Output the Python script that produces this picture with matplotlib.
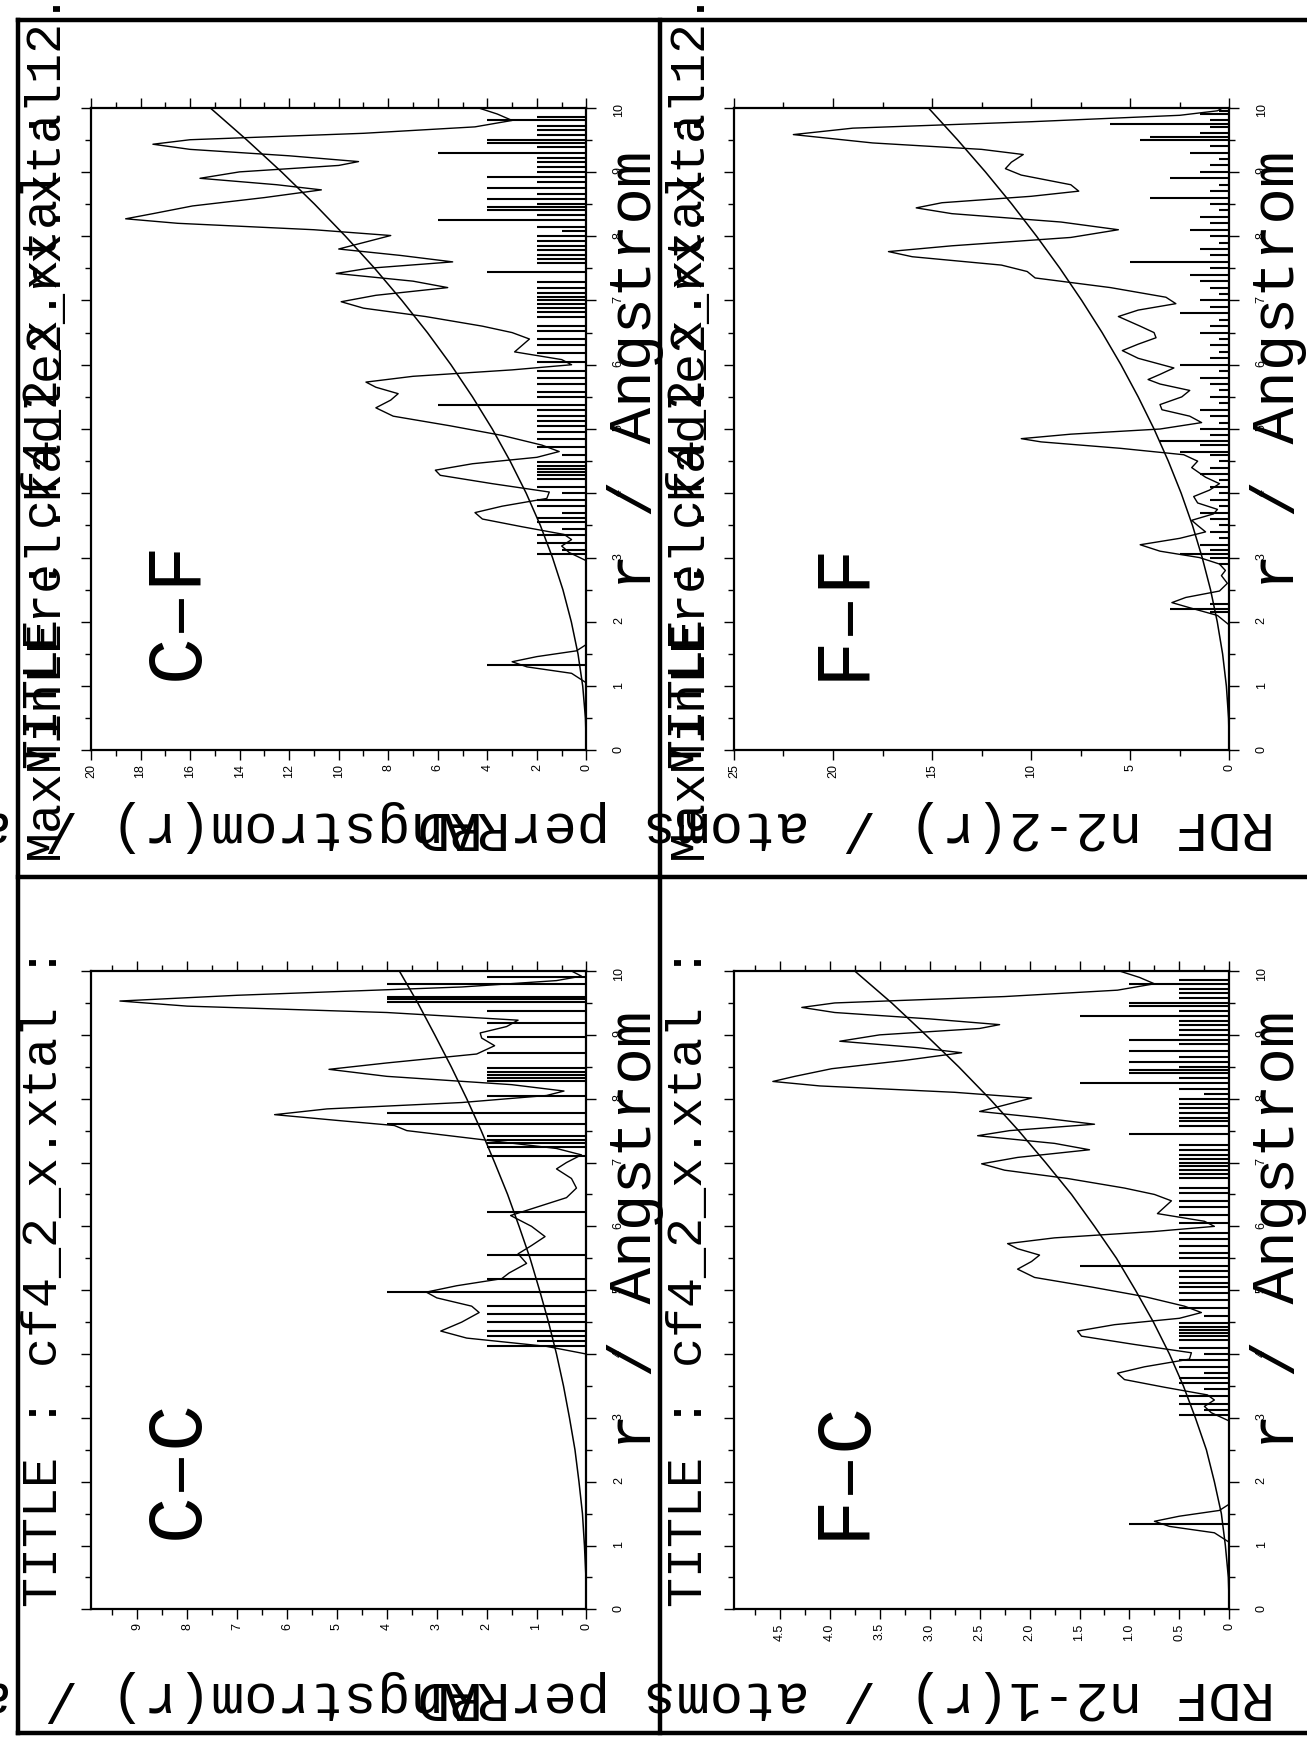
import matplotlib
matplotlib.use('Agg')
import matplotlib.pyplot as plt
from matplotlib.lines import Line2D
from matplotlib.ticker import MultipleLocator, FuncFormatter

# r grid of the smooth mean-density line
mean_r = [0.0, 0.5, 1.0, 1.5, 2.0, 2.5, 3.0, 3.5, 4.0, 4.5, 5.0,
          5.5, 6.0, 6.5, 7.0, 7.5, 8.0, 8.5, 9.0, 9.5, 10.0]
mean_low = [0.0, 0.01, 0.04, 0.08, 0.15, 0.23, 0.34, 0.46, 0.60, 0.76, 0.94,
            1.13, 1.35, 1.58, 1.84, 2.11, 2.40, 2.71, 3.04, 3.38, 3.75]
mean_high = [0.0, 0.04, 0.15, 0.34, 0.61, 0.95, 1.37, 1.86, 2.43, 3.08, 3.80,
             4.60, 5.47, 6.42, 7.45, 8.55, 9.73, 10.98, 12.31, 13.72, 15.20]

# C-C
cc_r = [0.0, 4.0, 4.12, 4.25, 4.36, 4.5, 4.65, 4.75, 4.88, 4.97,
        5.07, 5.18, 5.27, 5.42, 5.57, 5.7, 5.84,
        6.0, 6.17, 6.3, 6.45, 6.6, 6.75, 6.9,
        7.0, 7.12, 7.22, 7.35, 7.5, 7.58, 7.66, 7.75, 7.84, 7.94,
        8.05, 8.12, 8.22, 8.35, 8.46, 8.56, 8.7, 8.83, 8.95,
        9.03, 9.13, 9.23, 9.35, 9.45, 9.53, 9.62, 9.75, 9.85, 9.92, 10.0]
cc_v = [0.0, 0.0, 0.8, 2.4, 2.92, 2.5, 2.15, 2.3, 3.0, 3.21,
        2.6, 1.7, 1.55, 1.2, 1.37, 1.1, 0.83,
        1.1, 1.52, 1.0, 0.4, 0.2, 0.3, 0.6,
        0.4, 0.1, 0.6, 2.0, 3.6, 3.85, 5.0, 6.25, 5.2, 2.5,
        0.8, 0.45, 1.5, 4.0, 5.16, 4.0, 2.2, 1.84, 2.1,
        2.13, 1.6, 1.37, 4.0, 8.0, 9.35, 7.0, 2.5, 0.6, 0.1, 0.3]
cc_stick_r = [4.12, 4.2, 4.28, 4.36, 4.5, 4.62, 4.75, 4.97, 5.17, 5.55, 6.23,
              7.1, 7.25, 7.3, 7.35, 7.42, 7.6, 7.78, 8.05,
              8.28, 8.32, 8.37, 8.42, 8.48, 8.72, 8.96, 9.19, 9.38,
              9.52, 9.56, 9.6, 9.8, 9.9]
cc_stick_h = [2, 1, 2, 2, 2, 2, 2, 4, 2, 2, 2,
              2, 2, 2, 2, 2, 4, 4, 2,
              2, 2, 2, 2, 2, 2, 2, 2, 2,
              4, 4, 4, 4, 2]

# C-F (F-C uses the same r points)
cf_r = [0.0, 1.05, 1.2, 1.3, 1.38, 1.46, 1.55, 1.65,
        2.95, 3.08, 3.18, 3.28, 3.36, 3.48, 3.6, 3.7, 3.8, 3.92,
        4.02, 4.15, 4.28, 4.36, 4.46, 4.56, 4.65, 4.75, 4.9,
        5.05, 5.2, 5.33, 5.45, 5.55, 5.65, 5.73, 5.82, 5.92,
        6.0, 6.08, 6.2, 6.3, 6.4, 6.5, 6.6, 6.75, 6.88, 6.98,
        7.08, 7.2, 7.3, 7.42, 7.5, 7.6, 7.7, 7.8, 7.9,
        8.01, 8.1, 8.2, 8.27, 8.35, 8.47, 8.6, 8.72, 8.8, 8.9,
        9.0, 9.1, 9.16, 9.25, 9.35, 9.43, 9.5, 9.6, 9.7, 9.8, 9.9, 10.0]
cf_v = [0.0, 0.0, 0.6, 2.4, 3.0, 2.0, 0.4, 0.0,
        0.0, 0.7, 1.0, 0.6, 0.9, 2.6, 4.2, 4.5, 3.4, 1.6,
        1.5, 3.8, 5.9, 6.1, 4.6, 2.0, 1.1, 1.8, 3.4,
        5.5, 7.8, 8.5, 7.9, 7.6, 8.5, 8.9, 7.0, 3.0,
        0.6, 1.0, 2.9, 2.6, 2.3, 3.0, 4.2, 6.5, 9.0, 9.9,
        8.5, 5.6, 7.0, 10.1, 8.8, 5.4, 7.5, 10.0, 9.0,
        7.9, 11.0, 16.5, 18.6, 17.5, 15.9, 13.0, 10.7, 12.5, 15.6,
        14.0, 10.0, 9.2, 12.0, 16.0, 17.5, 16.0, 9.0, 4.5, 3.0, 3.6, 4.4]
fc_v = [0.0, 0.0, 0.15, 0.6, 0.75, 0.5, 0.1, 0.0,
        0.0, 0.18, 0.25, 0.15, 0.22, 0.65, 1.05, 1.12, 0.85, 0.4,
        0.38, 0.95, 1.48, 1.52, 1.15, 0.5, 0.28, 0.45, 0.85,
        1.38, 1.95, 2.12, 1.98, 1.9, 2.12, 2.22, 1.75, 0.75,
        0.15, 0.25, 0.72, 0.65, 0.58, 0.75, 1.05, 1.62, 2.25, 2.48,
        2.12, 1.4, 1.75, 2.52, 2.2, 1.35, 1.88, 2.5, 2.25,
        1.98, 2.75, 4.1, 4.57, 4.35, 3.98, 3.25, 2.68, 3.12, 3.9,
        3.5, 2.5, 2.3, 3.0, 3.95, 4.28, 3.95, 2.25, 1.12, 0.75, 0.9, 1.1]
cf_stick_r = [1.33,
              3.05, 3.12, 3.22, 3.35, 3.45, 3.55, 3.62, 3.7, 3.8, 3.9,
              4.0, 4.1, 4.22, 4.28, 4.33, 4.38, 4.42, 4.48, 4.6, 4.72, 4.85, 4.95,
              5.05, 5.12, 5.2, 5.3, 5.38, 5.5, 5.58, 5.7, 5.8, 5.9,
              6.05, 6.18, 6.3, 6.4, 6.52, 6.6, 6.75, 6.82, 6.88, 6.95,
              7.0, 7.05, 7.12, 7.2, 7.28, 7.45, 7.58, 7.65, 7.7, 7.78, 7.85, 7.92,
              8.0, 8.08, 8.15, 8.25, 8.33, 8.4, 8.45, 8.5, 8.58, 8.65, 8.75, 8.85, 8.92,
              9.0, 9.08, 9.15, 9.22, 9.3, 9.38, 9.45, 9.5, 9.58, 9.65, 9.72, 9.8, 9.86]
cf_stick_h = [4,
              2, 1, 2, 2, 1, 2, 2, 1, 2, 2,
              1, 2, 2, 2, 2, 2, 2, 2, 1, 2, 2, 2,
              2, 2, 2, 2, 6, 2, 2, 2, 2, 2,
              2, 2, 2, 2, 2, 2, 2, 2, 2, 2,
              2, 2, 2, 2, 2, 4, 2, 2, 2, 2, 2, 2,
              2, 1, 2, 6, 2, 4, 4, 2, 4, 2, 4, 2, 4,
              2, 2, 2, 2, 6, 2, 4, 4, 2, 2, 2, 4, 2]
fc_stick_h = [1,
              0.5, 0.25, 0.5, 0.5, 0.25, 0.5, 0.5, 0.25, 0.5, 0.5,
              0.25, 0.5, 0.5, 0.5, 0.5, 0.5, 0.5, 0.5, 0.25, 0.5, 0.5, 0.5,
              0.5, 0.5, 0.5, 0.5, 1.5, 0.5, 0.5, 0.5, 0.5, 0.5,
              0.5, 0.5, 0.5, 0.5, 0.5, 0.5, 0.5, 0.5, 0.5, 0.5,
              0.5, 0.5, 0.5, 0.5, 0.5, 1, 0.5, 0.5, 0.5, 0.5, 0.5, 0.5,
              0.5, 0.25, 0.5, 1.5, 0.5, 1, 1, 0.5, 1, 0.5, 1, 0.5, 1,
              0.5, 0.5, 0.5, 0.5, 1.5, 0.5, 1, 1, 0.5, 0.5, 0.5, 1, 0.5]

# F-F
ff_r = [0.0, 1.95, 2.1, 2.22, 2.3, 2.38, 2.48, 2.6, 2.72, 2.8,
        2.9, 3.0, 3.1, 3.2, 3.3, 3.4, 3.5, 3.58, 3.68, 3.75,
        3.85, 3.95, 4.05, 4.15, 4.25, 4.4, 4.5, 4.6, 4.7, 4.8,
        4.85, 4.92, 5.0, 5.1, 5.2, 5.3, 5.38, 5.5, 5.6, 5.7,
        5.77, 5.85, 5.95, 6.1, 6.22, 6.32, 6.42, 6.5, 6.6, 6.75,
        6.85, 6.95, 7.05, 7.2, 7.35, 7.45, 7.55, 7.68, 7.76, 7.85,
        7.98, 8.1, 8.22, 8.35, 8.44, 8.52, 8.62, 8.7, 8.8, 8.95,
        9.05, 9.15, 9.27, 9.35, 9.45, 9.58, 9.68, 9.78, 9.88, 9.95, 10.0]
ff_v = [0.0, 0.0, 0.6, 2.0, 2.9, 2.2, 0.5, 0.1, 0.4, 0.2,
        0.5, 1.5, 3.5, 4.5, 2.5, 1.2, 1.6, 1.9, 0.8, 0.6,
        1.6, 1.8, 1.0, 0.5, 1.2, 1.9, 1.6, 2.3, 5.5, 9.5,
        10.5, 8.0, 3.5, 1.4, 2.0, 3.4, 3.5, 2.4, 2.0, 3.5,
        4.1, 3.5, 2.8, 4.6, 5.4, 4.6, 3.7, 3.8, 4.5, 5.6,
        4.6, 2.7, 3.2, 6.0, 9.8, 10.2, 11.5, 16.0, 17.2, 14.0,
        8.0, 5.6, 8.5, 14.0, 15.8, 14.5, 10.0, 7.6, 8.0, 10.5,
        11.3, 11.0, 10.4, 12.5, 18.0, 22.0, 19.0, 10.0, 2.5, 0.6, 0.3]
ff_stick_r = [2.15, 2.2, 2.28, 2.9, 3.0, 3.05, 3.12, 3.2, 3.3, 3.4,
              3.5, 3.6, 3.7, 3.8, 3.9, 4.0, 4.1, 4.2, 4.3, 4.4,
              4.5, 4.6, 4.65, 4.75, 4.82, 4.9, 5.0, 5.1, 5.2, 5.3,
              5.4, 5.5, 5.6, 5.7, 5.8, 5.9, 6.0, 6.1, 6.2, 6.3,
              6.4, 6.5, 6.6, 6.7, 6.8, 6.9, 7.0, 7.1, 7.2, 7.3,
              7.4, 7.5, 7.6, 7.7, 7.8, 7.9, 8.0, 8.1, 8.2, 8.3,
              8.4, 8.5, 8.6, 8.7, 8.8, 8.9, 9.0, 9.1, 9.2, 9.3,
              9.4, 9.5, 9.55, 9.6, 9.7, 9.75, 9.8, 9.9, 9.95]
ff_stick_h = [1.0, 3.0, 1.0, 0.5, 1.0, 2.5, 1.0, 1.5, 0.5, 1.0,
              0.5, 1.0, 1.5, 0.5, 1.0, 0.5, 1.0, 0.5, 1.5, 1.0,
              0.5, 1.0, 2.5, 1.5, 3.5, 1.0, 1.5, 0.5, 1.0, 1.5,
              0.5, 1.0, 0.5, 1.0, 1.5, 0.5, 2.5, 1.0, 0.5, 1.0,
              0.5, 1.5, 1.0, 0.5, 2.5, 1.0, 1.5, 0.5, 1.0, 1.5,
              2.0, 1.0, 5.0, 1.0, 1.5, 0.5, 1.0, 2.0, 1.0, 1.5,
              0.5, 1.0, 4.0, 1.0, 0.5, 3.0, 1.5, 1.0, 0.5, 2.0,
              1.0, 4.5, 4.0, 1.5, 1.0, 6.0, 1.0, 1.5, 0.5]

MONO = 'Liberation Mono'


def draw_panel(ax, curve_r, curve_v, stick_r, stick_h, mean_v, vmax,
               major, minor, fmt, name, name_x):
    ax.plot(curve_v, curve_r, color='black', lw=1.0)
    ax.plot(mean_v, mean_r, color='black', lw=1.1)
    ax.hlines(stick_r, 0, stick_h, color='black', lw=1.5)

    # the page is printed sideways: r runs up, RDF runs to the left
    ax.set_xlim(vmax, 0)
    ax.set_ylim(0, 10)
    ax.xaxis.set_major_locator(MultipleLocator(major))
    ax.xaxis.set_minor_locator(MultipleLocator(minor))
    ax.xaxis.set_major_formatter(FuncFormatter(fmt))
    ax.yaxis.set_major_locator(MultipleLocator(1))
    ax.yaxis.set_minor_locator(MultipleLocator(0.5))

    ax.tick_params(which='both', direction='out', top=True, bottom=True,
                   left=True, right=True, width=1.0)
    ax.tick_params(which='major', length=7)
    ax.tick_params(which='minor', length=4)
    ax.tick_params(axis='x', labelbottom=True, labeltop=False,
                   labelrotation=90, labelsize=9, pad=3)
    ax.tick_params(axis='y', labelleft=False, labelright=True,
                   labelrotation=90, labelsize=9, pad=12)
    for lab in ax.get_xticklabels() + ax.get_yticklabels():
        lab.set_family('Liberation Sans')
    for sp in ax.spines.values():
        sp.set_linewidth(1.6)

    ax.text(name_x, 0.11, name, transform=ax.transAxes, rotation=90,
            ha='center', va='bottom', fontsize=56, family=MONO)
    ax.text(1.10, 0.25, 'r / Angstrom', transform=ax.transAxes, rotation=90,
            ha='center', va='bottom', fontsize=44, family=MONO)


def int_fmt(v, pos):
    return '%d' % round(v)


def half_fmt(v, pos):
    if abs(v) < 1e-9:
        return '0'
    return '%.1f' % v


fig = plt.figure(figsize=(13.07, 17.38), dpi=100)

col_x = [0.0696, 0.5615]
box_w = 0.3791
top_y, top_h = 0.5682, 0.3699
bot_y, bot_h = 0.0740, 0.3673

ax_cf = fig.add_axes([col_x[0], top_y, box_w, top_h])
ax_ff = fig.add_axes([col_x[1], top_y, box_w, top_h])
ax_cc = fig.add_axes([col_x[0], bot_y, box_w, bot_h])
ax_fc = fig.add_axes([col_x[1], bot_y, box_w, bot_h])

draw_panel(ax_cc, cc_r, cc_v, cc_stick_r, cc_stick_h, mean_low, 9.93,
           1, 0.5, int_fmt, 'C–C', 0.175)
draw_panel(ax_cf, cf_r, cf_v, cf_stick_r, cf_stick_h, mean_high, 20,
           2, 1, int_fmt, 'C–F', 0.175)
draw_panel(ax_fc, cf_r, fc_v, cf_stick_r, fc_stick_h, mean_low, 4.96,
           0.5, 0.25, half_fmt, 'F–C', 0.22)
draw_panel(ax_ff, ff_r, ff_v, ff_stick_r, ff_stick_h, mean_high, 25,
           5, 2.5, int_fmt, 'F–F', 0.22)

# page frame
frame = [((0.0138, 0.0138), (0.003, 0.9885)),
         ((0.505, 0.505), (0.003, 0.9885)),
         ((0.0138, 1.0), (0.9885, 0.9885)),
         ((0.0138, 1.0), (0.4954, 0.4954)),
         ((0.0138, 1.0), (0.003, 0.003))]
for xs, ys in frame:
    fig.add_artist(Line2D(xs, ys, color='black', lw=3.2,
                          transform=fig.transFigure))

# titles (printed over each other in the original)
title_pitch = 0.6 * 36 / 72 * 100 / 1738
for x in [0.034, 0.527]:
    fig.text(x, 0.0753, 'TITLE : cf4_2_x.xtal :', rotation=90, ha='center',
             va='bottom', fontsize=36, family=MONO)
    fig.text(x, 0.5057, 'MaxMinLErel.kadle2_rx.xtal12.9', rotation=90,
             ha='center', va='bottom', fontsize=36, family=MONO)
    fig.text(x, 0.5057 + 3 * title_pitch, 'TITLE : cf4_2_x.xtal :',
             rotation=90, ha='center', va='bottom', fontsize=36, family=MONO)

# y labels, upside down, running across both columns
lab_pitch = 0.6 * 40 / 72 * 100 / 1307
for y, txt in [(0.0242, 'RDF n2-1(r) / atoms perRAngstrom(r) / atoms'),
               (0.5249, 'RDF n2-2(r) / atoms perRAngstrom(r) / atoms')]:
    fig.text(0.9754, y, txt, rotation=180, ha='right', va='center',
             fontsize=40, family=MONO)
    fig.text(0.9754 - 24 * lab_pitch, y, 'RD', rotation=180, ha='right',
             va='center', fontsize=40, family=MONO)

plt.savefig('out.png', dpi=100, facecolor='white')
